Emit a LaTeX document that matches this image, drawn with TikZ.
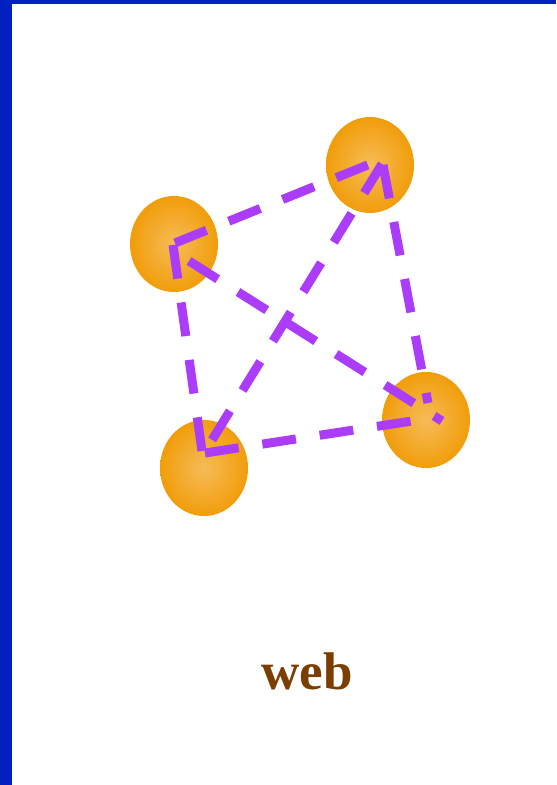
\documentclass[tikz,border=0pt]{standalone}
\usepackage{fontspec}
\setmainfont{Liberation Serif}
\usepackage{xcolor}
\usepackage{tikz}
\usetikzlibrary{shapes.geometric}

\definecolor{frameblue}{RGB}{0,32,192}
\definecolor{webpurple}{RGB}{170,60,250}
\definecolor{hubouter}{RGB}{241,157,10}
\definecolor{hubinner}{RGB}{246,188,88}
\definecolor{webbrown}{RGB}{122,62,0}

\tikzset{
  hub/.style={ellipse, minimum width=44pt, minimum height=48pt, inner sep=0pt,
    shading=radial, inner color=hubinner, outer color=hubouter},
  strand/.style={draw=webpurple, line width=4.5pt, dash pattern=on 17pt off 12pt}
}

\begin{document}
\begin{tikzpicture}[x=0.5pt,y=-0.5pt]
  \useasboundingbox (0,0) rectangle (556,785);

  % Frame
  \fill[frameblue] (0,0) rectangle (12,785);
  \fill[frameblue] (0,0) rectangle (556,4);

  % Hubs
  \foreach \name/\pos in {nw/{(174,244)},ne/{(370,165)},sw/{(204,468)},se/{(426,420)}} {
    \node[hub] (\name) at \pos {};
  }

  % Strand ends
  \coordinate (nw-ne) at ([shift={(1,-1)}]nw.center);
  \coordinate (nw-sw) at ([shift={(-1,1)}]nw.center);
  \coordinate (nw-se) at ([shift={(15,17)}]nw.center);
  \coordinate (ne-nw) at ([shift={(10,-5)}]ne.center);
  \coordinate (ne-sw) at ([shift={(12,-1)}]ne.center);
  \coordinate (ne-se) at ([shift={(13,0)}]ne.center);
  \coordinate (sw-nw) at ([shift={(-2,-17)}]sw.center);
  \coordinate (sw-ne) at ([shift={(8,-28)}]sw.center);
  \coordinate (sw-se) at ([shift={(1,-15)}]sw.center);
  \coordinate (se-nw) at ([shift={(16,1)}]se.center);
  \coordinate (se-ne) at ([shift={(2,-17)}]se.center);
  \coordinate (se-sw) at ([shift={(-14,1)}]se.center);

  % Strands
  \draw[strand] (nw-ne) -- (ne-nw);
  \draw[strand] (nw-sw) -- (sw-nw);
  \draw[strand] (nw-se) -- (se-nw);
  \draw[strand] (ne-sw) -- (sw-ne);
  \draw[strand] (ne-se) -- (se-ne);
  \draw[strand] (sw-se) -- (se-sw);

  % Label
  \node[font=\bfseries\fontsize{26.5}{30}\selectfont, text=webbrown, anchor=base]
    (title) at (307,689) {web};
\end{tikzpicture}
\end{document}
